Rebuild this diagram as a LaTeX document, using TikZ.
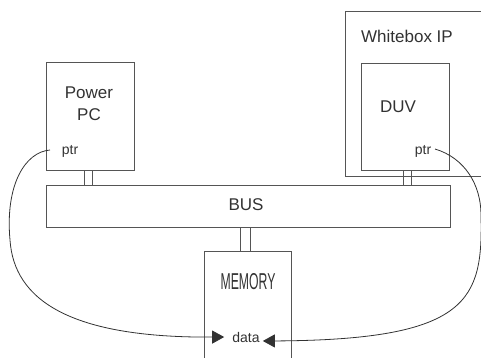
\documentclass[tikz,border=0pt]{standalone}
\usepackage{fontspec}
\setmainfont{Liberation Sans}
\usetikzlibrary{arrows.meta,positioning}
\definecolor{edge}{RGB}{85,85,85}
\definecolor{ink}{RGB}{50,50,50}
\tikzset{
  >={Triangle[length=12pt,width=13pt]},
  blk/.style={draw=edge,line width=0.9pt,inner sep=0pt},
  stub/.style={draw=edge,line width=0.8pt,inner sep=0pt,minimum width=8pt,minimum height=15pt},
  lbl/.style={font=\fontsize{17}{22}\selectfont,text=ink,align=center,inner sep=1pt},
  tag/.style={font=\fontsize{14}{16}\selectfont,text=ink,inner sep=1pt},
  flow/.style={->,draw=ink,line width=0.8pt},
}

\begin{document}
\begin{tikzpicture}[x=1pt,y=-1pt]
  \path[use as bounding box,clip] (0,0) rectangle (481,358);
  % blocks
  \node[blk,minimum width=88pt,minimum height=108pt] (ppc) at (90,116) {};
  \node[blk,minimum width=145pt,minimum height=165pt] (wbip) at (417.5,93.5) {};
  \node[blk,minimum width=88pt,minimum height=107pt] (duv) at (405,116.5) {};
  \node[blk,minimum width=404pt,minimum height=42pt] (bus) at (248,206) {};
  \node[blk,minimum width=87pt,minimum height=128pt] (mem) at (247.5,315.5) {};
  % bus links
  \node[stub] (ppclink) at (88,177.5) {};
  \node[stub] (duvlink) at (407,177.5) {};
  \node[stub,minimum width=10pt,minimum height=24pt] (memlink) at (245,239) {};
  % texts
  \node[lbl] (ppcname) at (89,104) {Power\\PC};
  \node[lbl] (wbipname) at (407,36) {Whitebox IP};
  \node[lbl] (duvname) at (398,107) {DUV};
  \node[lbl] (busname) at (246,205) {BUS};
  \node[lbl] (memname) at (248,282) {\scalebox{0.72}[1.35]{MEMORY}};
  \node[tag] (ppcptr) at (70,151) {ptr};
  \node[tag] (duvptr) at (423,151) {ptr};
  \node[tag] (memdata) at (246,337) {data};
  % pointers into memory
  \coordinate (ppcout) at (50,150);
  \coordinate (duvout) at (435,149);
  \draw[flow] (ppcout) .. controls (25,152) and (5,185) .. (10,240)
    .. controls (14,300) and (70,338) .. ([xshift=-7pt]memdata.west);
  \draw[flow] (duvout) .. controls (465,158) and (481,185) .. (481,215)
    .. controls (483,300) and (470,340) .. ([xshift=2pt,yshift=-4pt]memdata.east);
\end{tikzpicture}
\end{document}
